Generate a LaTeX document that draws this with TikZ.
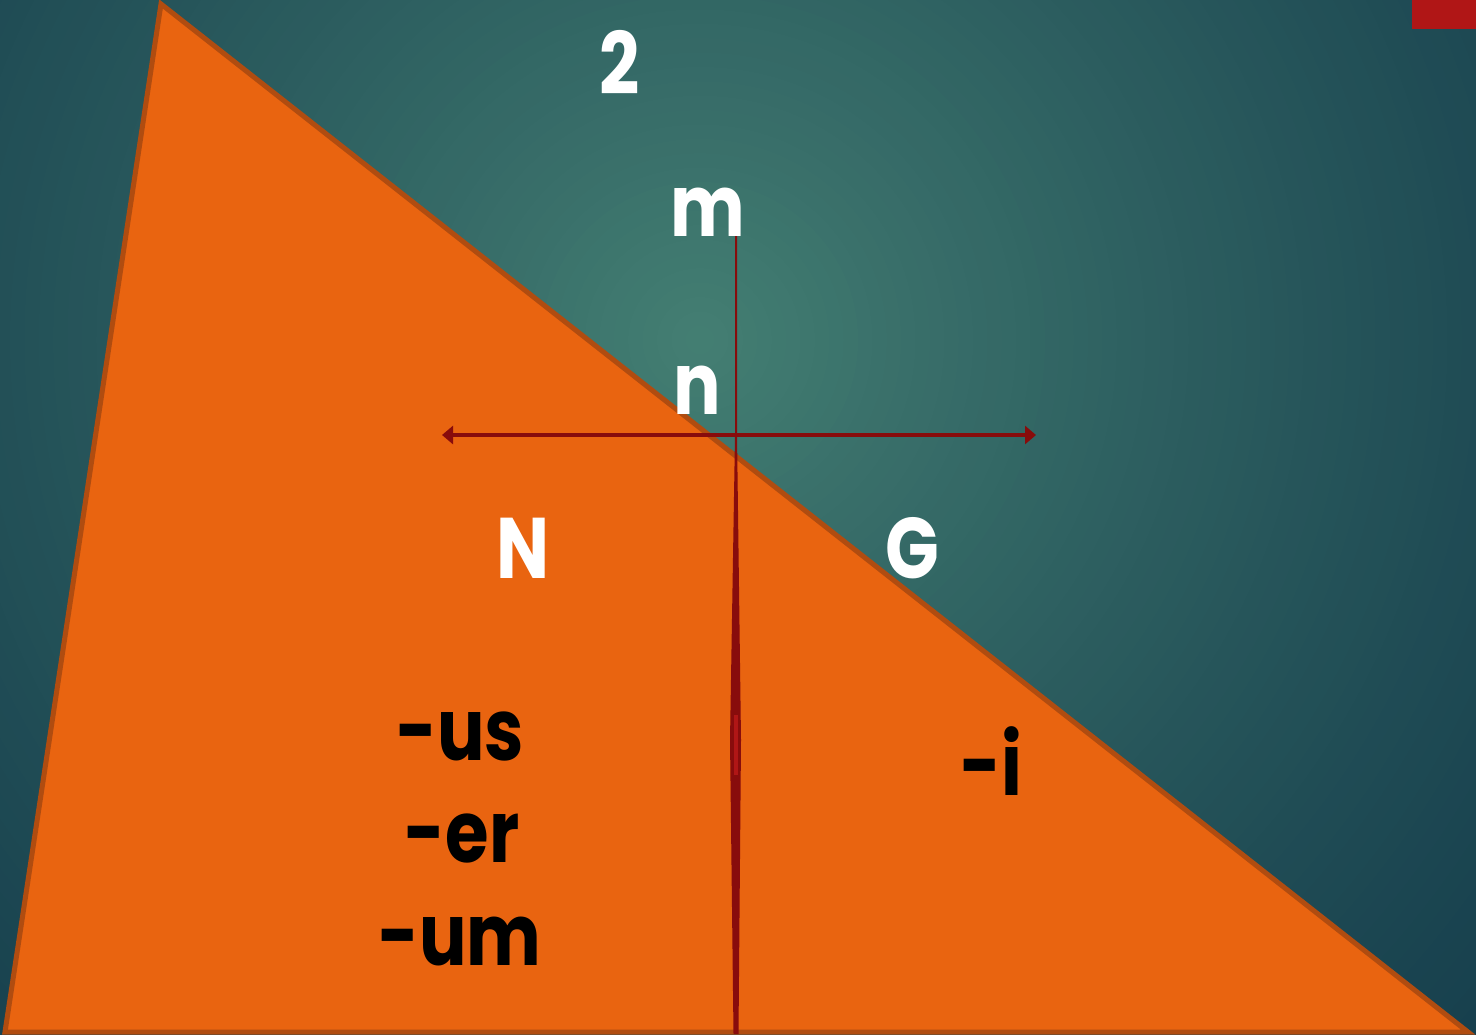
\documentclass[tikz,border=0pt]{standalone}
\usepackage{fontspec}
\setmainfont{Poppins}[FakeStretch=0.82]
\usetikzlibrary{arrows.meta}
\definecolor{bgin}{HTML}{447F73}
\definecolor{bgout}{HTML}{153D4C}
\definecolor{tri}{HTML}{E96410}
\definecolor{triedge}{HTML}{B04C10}
\definecolor{axis}{HTML}{880C0C}
\definecolor{flag}{HTML}{B01616}
\tikzset{
  lbl/.style={text=white, font=\fontsize{43}{43}\selectfont\bfseries, inner sep=0pt, anchor=base},
  sfx/.style={text=black, font=\fontsize{43}{43}\selectfont\bfseries, inner sep=0pt, anchor=base},
  axisline/.style={draw=axis, line width=2pt, {Triangle[length=5.5pt,width=9pt]}-{Triangle[length=5.5pt,width=9pt]}},
}
\begin{document}
\begin{tikzpicture}[x=0.5pt,y=-0.5pt]
\useasboundingbox (0,0) rectangle (1476,1034);
\begin{scope}
\clip (0,0) rectangle (1476,1034);
\fill[bgout] (0,0) rectangle (1476,1034);
\foreach \k in {0,...,79}{
  \pgfmathsetmacro{\rad}{1150*(1-\k/80)}
  \pgfmathsetmacro{\pct}{100*(\k/80)^1.3}
  \fill[bgin!\pct!bgout] (700,340) circle (\rad);
}
\fill[flag] (1412,0) rectangle (1476,29);
\filldraw[fill=tri, draw=triedge, line width=2.5pt, line join=miter] (161,4) -- (1468,1032) -- (5,1032) -- cycle;
\end{scope}
% labels
\node[lbl] (two) at (620,94) {2};
\node[lbl] (m) at (708,236) {m};
\node[lbl] (n) at (697,414) {n};
\node[lbl] (N) at (523,578) {N};
\node[lbl] (G) at (912,578) {G};
\node[sfx] (us) at (460,760) {-us};
\node[sfx] (er) at (462,862) {-er};
\node[sfx] (um) at (460,965) {-um};
\node[sfx] (i) at (991,795) {-i};
% vertical axis
\coordinate (vtop) at (736,236);
\coordinate (vbot) at (736,1034);
\coordinate (cross) at (736,435);
\fill[axis] (vtop) ++(-1,0) -- ++(2,0) -- (737,435) -- (741,740) -- (738.5,1034) -- (733.5,1034) -- (730,740) -- (735,435) -- cycle;
\fill[flag] (733.5,715) rectangle (738,775);
% horizontal arrow
\coordinate (hl) at (442,435);
\coordinate (hr) at (1036,435);
\draw[axisline] (hl) -- (hr);
\end{tikzpicture}
\end{document}
